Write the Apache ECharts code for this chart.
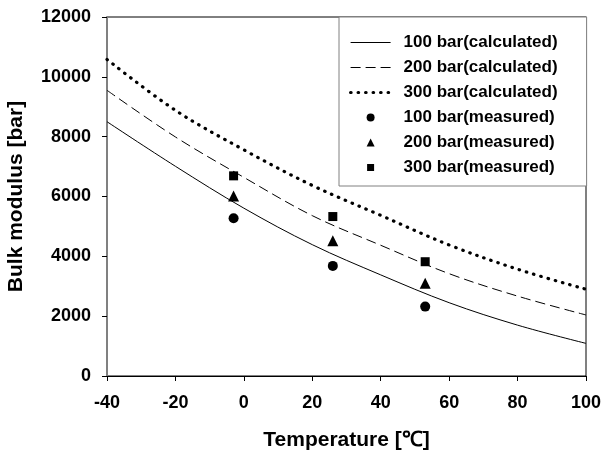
<!DOCTYPE html>
<html lang="en" style="height: 100%">
<head>
    <meta charset="UTF-8">
    <title>Bulk modulus</title>
    <script src="https://cdn.jsdelivr.net/npm/echarts@6/dist/echarts.min.js"></script>
</head>
<body style="height: 100%; margin: 0">
<div id="container" style="width: 601px; height: 452px"></div>
<script type="text/javascript">
    // calculated curves, read at every 20 degrees
    var temps = [-40, -20, 0, 20, 40, 60, 80, 100];
    var calc100 = [8500, 7010, 5610, 4390, 3380, 2450, 1700, 1090];
    var calc200 = [9550, 7990, 6640, 5360, 4370, 3420, 2670, 2040];
    var calc300 = [10580, 8880, 7560, 6370, 5370, 4380, 3570, 2900];

    // measured points
    var measTemps = [-3, 26, 53];
    var meas100 = [5270, 3680, 2320];
    var meas200 = [6020, 4520, 3100];
    var meas300 = [6690, 5330, 3820];

    var names = [
        '100 bar(calculated)', '200 bar(calculated)', '300 bar(calculated)',
        '100 bar(measured)', '200 bar(measured)', '300 bar(measured)'
    ];

    function pairs(xs, ys) {
        return xs.map(function (x, i) { return [x, ys[i]]; });
    }

    var font = 'Liberation Sans, Arial, sans-serif';
    var dom = document.getElementById('container');
    var myChart = echarts.init(dom);

    var lineSeries = function (name, data, style) {
        return {
            name: name,
            type: 'line',
            data: pairs(temps, data),
            smooth: 0.35,
            symbol: 'none',
            lineStyle: style,
            itemStyle: {color: '#000'},
            z: 2
        };
    };
    var scatterSeries = function (name, data, symbol, size) {
        return {
            name: name,
            type: 'scatter',
            data: pairs(measTemps, data),
            symbol: symbol,
            symbolSize: size,
            itemStyle: {color: '#000', opacity: 1},
            z: 3
        };
    };

    // legend icons: small marks centred in the 40x8 icon box
    var triIcon = 'path://M0,4L0,4M40,4L40,4M16,8L20,0L24,8Z';
    var rectIcon = 'path://M0,4L0,4M40,4L40,4M16.5,0.5L23.5,0.5L23.5,7.5L16.5,7.5Z';
    var legendData = [
        {name: names[0], itemStyle: {opacity: 0}},
        {name: names[1], itemStyle: {opacity: 0}},
        {name: names[2], itemStyle: {opacity: 0}},
        {name: names[3]},
        {name: names[4], icon: triIcon},
        {name: names[5], icon: rectIcon}
    ];

    var option = {
        animation: false,
        backgroundColor: '#fff',
        grid: {
            left: 107, right: 15, top: 17, bottom: 76,
            outerBoundsMode: 'none',
            show: true, borderColor: '#000', borderWidth: 1
        },
        legend: {
            orient: 'vertical',
            left: 339, top: 17,
            padding: [17, 29, 10, 10],
            backgroundColor: '#fff',
            borderColor: '#808080',
            borderWidth: 1,
            itemWidth: 40,
            itemHeight: 8,
            itemGap: 8,
            lineStyle: {width: 'inherit'},
            data: legendData,
            textStyle: {
                fontFamily: font, fontWeight: 'bold', fontSize: 17, color: '#000',
                padding: [0, 0, 0, 8]
            }
        },
        xAxis: {
            type: 'value',
            min: -40, max: 100, interval: 20,
            name: 'Temperature [℃]',
            nameLocation: 'middle',
            nameGap: 54,
            nameTextStyle: {fontFamily: font, fontWeight: 'bold', fontSize: 21, color: '#000'},
            axisLine: {onZero: false, lineStyle: {color: '#000', width: 1}},
            axisTick: {show: true, inside: false, length: 5, lineStyle: {color: '#000'}},
            axisLabel: {fontFamily: font, fontWeight: 'bold', fontSize: 18, color: '#000', margin: 18},
            splitLine: {show: false}
        },
        yAxis: [{
            type: 'value',
            min: 0, max: 12000, interval: 2000,
            name: 'Bulk modulus [bar]',
            nameLocation: 'middle',
            nameGap: 80,
            nameTextStyle: {fontFamily: font, fontWeight: 'bold', fontSize: 21, color: '#000'},
            axisLine: {show: true, onZero: false, lineStyle: {color: '#808080', width: 2}},
            axisTick: {show: true, inside: false, length: 5, lineStyle: {color: '#000'}},
            axisLabel: {
                fontFamily: font, fontWeight: 'bold', fontSize: 18, color: '#000', margin: 16,
                formatter: function (v) { return String(v); }
            },
            splitLine: {show: false}
        }, {
            type: 'value',
            min: 0, max: 12000,
            position: 'right',
            axisLine: {show: true, onZero: false, lineStyle: {color: '#808080', width: 1}},
            axisTick: {show: false},
            axisLabel: {show: false},
            splitLine: {show: false}
        }],
        series: [
            lineSeries(names[0], calc100, {color: '#000', width: 1, type: 'solid'}),
            lineSeries(names[1], calc200, {color: '#000', width: 1, type: [10, 5]}),
            lineSeries(names[2], calc300, {color: '#000', width: 3.2, type: [0.5, 7], cap: 'round'}),
            scatterSeries(names[3], meas100, 'circle', 10),
            scatterSeries(names[4], meas200, 'triangle', 11),
            scatterSeries(names[5], meas300, 'rect', 9)
        ]
    };

    myChart.setOption(option);
</script>
</body>
</html>
